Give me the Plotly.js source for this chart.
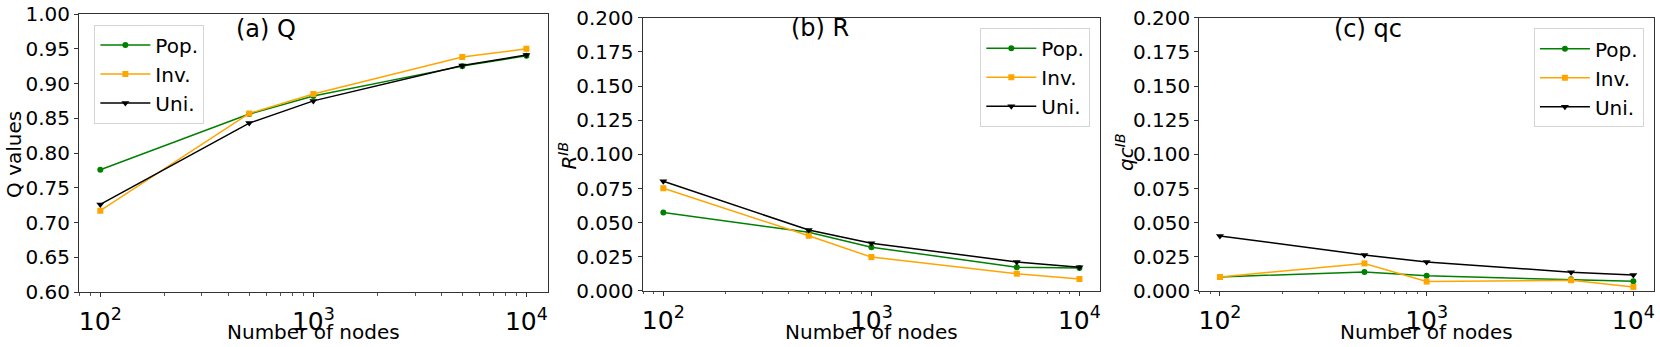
<!DOCTYPE html>
<html>
<head>
<meta charset="utf-8">
<script src="https://cdn.plot.ly/plotly-3.0.1.min.js"></script>
<style>
  html, body { margin: 0; padding: 0; background: #fff; }
  #myDiv { width: 1660px; height: 347px; }
</style>
</head>
<body>
<div id="myDiv"></div>
<script>
// number of nodes (x for all three panels)
var nodes = [100, 500, 1000, 5000, 10000];
var seriesNames = ['Pop.', 'Inv.', 'Uni.'];

// (a) Q
var qPop = [0.776, 0.856, 0.882, 0.925, 0.940];
var qInv = [0.717, 0.857, 0.885, 0.938, 0.950];
var qUni = [0.726, 0.843, 0.875, 0.926, 0.941];

// (b) R
var rPop = [0.0574, 0.0430, 0.0321, 0.0174, 0.0169];
var rInv = [0.0752, 0.0404, 0.0248, 0.0127, 0.0088];
var rUni = [0.0804, 0.0446, 0.0350, 0.0213, 0.0174];

// (c) qc
var qcPop = [0.0103, 0.0140, 0.0111, 0.0086, 0.0071];
var qcInv = [0.0103, 0.0202, 0.0069, 0.0079, 0.0030];
var qcUni = [0.0403, 0.0263, 0.0212, 0.0138, 0.0118];

var panelTitles = ['(a) Q', '(b) R', '(c) qc'];
var xTitle = 'Number of nodes';
var yTitles = ['Q values', '<i>R</i><sup><i>IB</i></sup>', '<i>qc</i><sup><i>IB</i></sup>'];

var FONT = 'DejaVu Sans';
var colors = ['green', 'orange', 'black'];
var symbols = ['circle', 'square', 'triangle-down'];
var msize = [6, 6, 7];
// one legend per panel
var legendIds = ['legend', 'legend2', 'legend3'];

function makeTrace(y, i, panel) {
  var sfx = panel === 1 ? '' : String(panel);
  return {
    x: nodes, y: y,
    type: 'scatter', mode: 'lines+markers',
    name: seriesNames[i],
    xaxis: 'x' + sfx, yaxis: 'y' + sfx,
    legend: legendIds[panel - 1],
    line: {color: colors[i], width: 1.5},
    marker: {color: colors[i], symbol: symbols[i], size: msize[i]}
  };
}

var data = [
  makeTrace(qPop, 0, 1), makeTrace(qInv, 1, 1), makeTrace(qUni, 2, 1),
  makeTrace(rPop, 0, 2), makeTrace(rInv, 1, 2), makeTrace(rUni, 2, 2),
  makeTrace(qcPop, 0, 3), makeTrace(qcInv, 1, 3), makeTrace(qcUni, 2, 3)
];

function xAxis(dom, anchor) {
  return {
    domain: dom, anchor: anchor, type: 'log', range: [1.9, 4.1],
    dtick: 1, exponentformat: 'power',
    showline: true, mirror: true, linecolor: '#333', linewidth: 1,
    ticks: 'outside', ticklen: 4, tickcolor: '#333', ticklabelstandoff: 4,
    minor: {ticks: 'outside', ticklen: 2.5, tickcolor: '#555', dtick: 'D1'},
    showgrid: false, zeroline: false,
    tickfont: {family: FONT, size: 20, color: '#000'},
    automargin: false
  };
}

function yAxis(dom, anchor, rng, dt, fmt) {
  return {
    domain: dom, anchor: anchor, range: rng, dtick: dt, tickformat: fmt,
    showline: true, mirror: true, linecolor: '#333', linewidth: 1,
    ticks: 'outside', ticklen: 4, tickcolor: '#333',
    showgrid: false, zeroline: false,
    tickfont: {family: FONT, size: 20, color: '#000'},
    automargin: false
  };
}

function legendBox(x, y) {
  return {
    x: x, y: y, xanchor: 'right', yanchor: 'top',
    itemwidth: 50,
    bgcolor: 'rgba(255,255,255,0.8)', bordercolor: '#d5d5d5', borderwidth: 1,
    font: {family: FONT, size: 20, color: '#000'}
  };
}

function label(text, x, y, size, angle) {
  return {text: text, xref: 'paper', yref: 'paper', x: x, y: y,
    xanchor: 'center', yanchor: 'middle', showarrow: false, textangle: angle || 0,
    font: {family: FONT, size: size, color: '#000'}};
}

var layout = {
  width: 1660, height: 347,
  margin: {l: 79, r: 6, t: 14, b: 55},
  paper_bgcolor: '#fff', plot_bgcolor: '#fff',
  showlegend: true,
  xaxis: xAxis([0, 0.2976], 'y'),
  yaxis: yAxis([0, 1], 'x', [0.6, 1.0], 0.05, '.2f'),
  xaxis2: xAxis([0.3578, 0.6484], 'y2'),
  yaxis2: yAxis([0.0036, 0.9863], 'x2', [0, 0.2], 0.025, '.3f'),
  xaxis3: xAxis([0.7113, 1.0], 'y3'),
  yaxis3: yAxis([0.0036, 0.9863], 'x3', [0, 0.2], 0.025, '.3f'),
  legend: legendBox(0.0796, 0.962),
  legend2: legendBox(0.6421, 0.9507),
  legend3: legendBox(0.9936, 0.9486),
  annotations: [
    label(panelTitles[0], 0.1187, 0.946, 24),
    label(panelTitles[1], 0.4702, 0.9514, 24),
    label(panelTitles[2], 0.8184, 0.946, 24),
    label(xTitle, 0.1488, -0.1439, 20),
    label(xTitle, 0.5031, -0.1439, 20),
    label(xTitle, 0.8557, -0.1439, 20),
    label(yTitles[0], -0.0413, 0.4964, 20, -90),
    label(yTitles[1], 0.3102, 0.4892, 20, -90),
    label(yTitles[2], 0.6641, 0.5036, 20, -90)
  ]
};

Plotly.newPlot('myDiv', data, layout, {displayModeBar: false, staticPlot: true});
</script>
</body>
</html>
